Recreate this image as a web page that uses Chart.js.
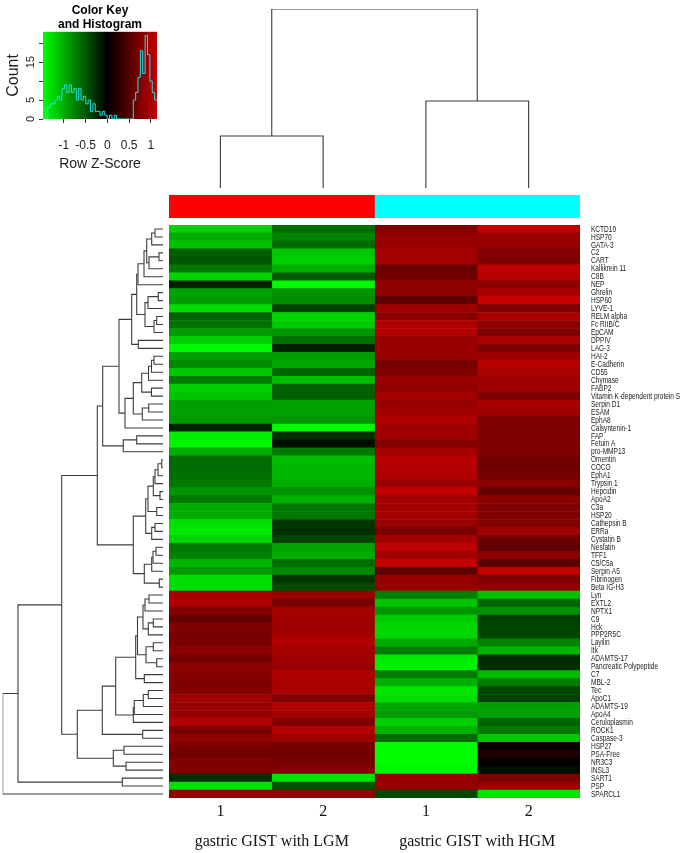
<!DOCTYPE html>
<html>
<head>
<meta charset="utf-8">
<script src="https://cdn.jsdelivr.net/npm/chart.js@4.4.1/dist/chart.umd.min.js"></script>
<style>
html,body{margin:0;padding:0;background:#fff;}
body{width:685px;height:853px;position:relative;overflow:hidden;}
canvas{position:absolute;display:block;}
</style>
</head>
<body>
<canvas id="keyChart" width="170" height="175" style="left:0;top:0;width:170px;height:175px"></canvas>
<canvas id="colDendro" width="411" height="190" style="left:169px;top:0;width:411px;height:190px"></canvas>
<canvas id="sideBar" width="411" height="23" style="left:169px;top:195px;width:411px;height:23px"></canvas>
<canvas id="rowDendro" width="169" height="573" style="left:0;top:225px;width:169px;height:573px"></canvas>
<canvas id="heatmap" width="516" height="628" style="left:169px;top:225px;width:516px;height:628px"></canvas>
<script>
// ---------------- DATA ----------------
const rowLabels = ['KCTD10','HSP70','GATA-3','C2','CART','Kallikrein 11','C8B','NEP','Ghrelin','HSP60',
 'LYVE-1','RELM alpha','Fc RIIB/C','EpCAM','DPPIV','LAG-3','HAI-2','E-Cadherin','CD55','Chymase',
 'FABP2','Vitamin K-dependent protein S','Serpin D1','ESAM','EphA8','Calsyntenin-1','FAP','Fetuin A','pro-MMP13','Omentin',
 'COCO','EphA1','Trypsin 1','Hepcidin','ApoA2','C3a','HSP20','Cathepsin B','ERRa','Cystatin B',
 'Nesfatin','TFF1','C5/C5a','Serpin A5','Fibrinogen','Beta IG-H3','Lyn','EXTL2','NPTX1','C9',
 'Hck','PPP2R5C','Layilin','Itk','ADAMTS-17','Pancreatic Polypeptide','C7','MBL-2','Tec','ApoC1',
 'ADAMTS-19','ApoA4','Ceruloplasmin','ROCK1','Caspase-3','HSP27','PSA-Free','NR3C3','INSL3','SART1',
 'PSP','SPARCL1'];

const sampleLabels = ['1','2','1','2'];
const groupLabels = ['gastric GIST with LGM','gastric GIST with HGM'];
const sampleGroup = [0,0,1,1];

// Row Z-scores, one array per sample column
const zLGM1 = [-1.2,-1.0,-1.12,-0.55,-0.5,-0.7,-1.22,-0.2,-0.95,-0.9,
 -1.28,-0.57,-0.66,-0.9,-1.2,-1.44,-0.92,-0.8,-1.15,-0.72,
 -1.2,-1.14,-0.92,-0.93,-0.88,-0.21,-1.38,-1.42,-1.0,-0.64,
 -0.62,-0.65,-0.7,-0.86,-0.7,-1.0,-1.0,-1.3,-1.36,-1.23,
 -0.7,-0.74,-1.05,-0.89,-1.3,-1.28,0.96,1.02,0.75,0.58,
 0.75,0.7,0.7,0.81,0.67,0.81,0.78,0.75,0.75,0.93,
 0.87,0.87,1.04,0.7,0.84,0.72,0.66,0.75,0.75,-0.27,
 -1.3,0.87];
const zLGM2 = [-0.63,-0.77,-0.62,-1.16,-1.21,-1.01,-0.52,-1.45,-0.85,-0.81,
 -0.38,-1.23,-1.17,-0.87,-0.66,-0.19,-0.91,-0.97,-0.59,-1.11,
 -0.57,-0.55,-0.94,-0.93,-0.87,-1.45,-0.28,-0.08,-0.71,-1.1,
 -1.06,-1.06,-1.01,-0.85,-1.04,-0.69,-0.69,-0.32,-0.27,-0.4,
 -0.95,-1.0,-0.63,-0.79,-0.3,-0.43,0.9,0.7,0.96,0.96,
 0.9,0.96,1.04,0.96,0.93,0.87,1.02,0.99,0.99,0.73,
 1.02,0.96,0.73,1.04,0.93,0.68,0.65,0.7,0.75,-1.33,
 -0.47,0.87];
const zHGM1 = [0.73,0.87,0.87,0.96,0.96,0.61,0.67,0.84,0.81,0.55,
 0.93,0.81,1.02,1.04,0.87,0.9,0.9,0.7,0.75,0.9,
 0.84,0.96,0.87,0.93,1.02,0.93,0.93,0.75,0.96,1.07,
 1.04,1.02,0.9,1.13,0.93,0.96,0.96,0.87,0.7,0.96,
 1.1,0.93,1.13,0.55,0.87,0.87,-0.74,-1.14,-0.87,-1.18,
 -1.25,-1.25,-0.98,-0.72,-1.35,-1.4,-0.72,-1.02,-1.34,-1.28,
 -0.96,-0.9,-1.2,-1.03,-0.62,-1.46,-1.47,-1.47,-1.42,0.87,
 0.87,-0.42];
const zHGM2 = [1.1,0.9,0.87,0.75,0.75,1.1,1.07,0.81,0.99,1.16,
 0.73,0.99,0.81,0.73,0.99,0.73,0.93,1.07,0.99,0.93,
 0.93,0.73,0.99,0.93,0.73,0.73,0.73,0.75,0.75,0.67,
 0.64,0.7,0.81,0.58,0.81,0.73,0.73,0.75,0.93,0.67,
 0.55,0.81,0.55,1.13,0.73,0.84,-1.12,-0.58,-0.84,-0.36,
 -0.4,-0.41,-0.76,-1.05,-0.25,-0.28,-1.08,-0.72,-0.4,-0.38,
 -0.93,-0.93,-0.57,-0.71,-1.15,0.06,0.16,0.02,-0.08,0.73,
 0.9,-1.32];

// Row dendrogram merges (hclust style: negative = leaf, positive = earlier merge), with heights
const rowMerges = [
 [-1,-2,8],[1,-3,11.3],[-4,-5,4],[3,-6,14],[2,4,16.3],[5,-7,19],[6,-8,25],[-9,-10,4.7],[8,-11,15],[-12,-13,6.3],
 [10,-14,9],[9,11,18],[7,12,26.3],[-15,-16,24.7],[13,14,31.3],[-17,-18,9],[16,-19,11.5],[17,-20,14.5],[-21,-22,11.5],[18,19,21.3],
 [-23,-24,14.3],[21,-25,20.7],[20,22,29.7],[23,-26,38],[15,24,44],[-27,-28,26.3],[26,-29,39.7],[25,27,60.3],[-30,-31,1.3],[29,-32,5],
 [30,-33,8],[-34,-35,3],[31,32,9.7],[-36,-37,6.3],[33,34,15],[-38,-39,8],[36,-40,11.3],[35,37,17.3],[-41,-42,7],[39,-43,10],
 [40,-44,11.3],[-45,-46,3.7],[41,42,18.7],[38,43,29.7],[28,44,65.7],[-47,-48,14],[46,-49,18],[-50,-51,9.7],[48,-52,14.7],[47,49,20],
 [-53,-54,9.7],[-55,-56,6.3],[51,52,17],[50,53,25.5],[-57,-58,18.7],[54,55,27.3],[-59,-60,14.7],[57,-61,19.7],[58,-62,28.7],[59,-63,29.7],
 [56,60,47.3],[-64,-65,20.3],[61,62,60.7],[-66,-67,39],[-68,-69,37],[64,65,49.7],[63,66,85.7],[45,67,101.3],[-70,-71,40.7],[68,69,145],
 [70,-72,160.3]
];
// Column dendrogram merges
const colMerges = [[-1,-2,52],[-3,-4,87],[1,2,179]];

// Colour key / histogram
const keyMin = -1.48, keyMax = 1.14;
const histCounts = [3,0,3,4,4,5,6,5,8,9,7,9,7,8,5,8,5,6,4,5,2,4,2,2,1,2,1,0,1,0,1,0,0,0,0,0,0,0,5,7,11,18,12,22,17,10,7,5];
const keyTicks = [-1,-0.5,0,0.5,1];
const keyTickLabels = ['-1','-0.5','0','0.5','1'];
const countTicks = [0,5,10,15,20];
const countTickLabels = ['0','5','','15',''];

// ---------------- STYLE ----------------
const zLim = 1.48;
const groupColors = ['#FF0000','#00FFFF'];
const lineCol = '#3c3c3c';
function zToColor(z){
  const t = Math.min(1, Math.abs(z)/zLim);
  const v = Math.round(255*t);
  return z < 0 ? `rgb(0,${v},0)` : `rgb(${v},0,0)`;
}
const serif = "'Liberation Serif','Times New Roman',serif";
const sans = "'Liberation Sans',Arial,sans-serif";
const rowLabelSquash = 0.69;

Chart.defaults.animation = false;
Chart.defaults.responsive = false;
Chart.defaults.plugins.legend.display = false;
Chart.defaults.plugins.tooltip.enabled = false;

function dendroSegments(merges){
  const pos = [], hgt = [], segs = [];
  const get = id => id < 0 ? {p: -id-1, h: 0} : {p: pos[id-1], h: hgt[id-1]};
  merges.forEach(([a,b,h],k) => {
    const A = get(a), B = get(b);
    pos[k] = (A.p + B.p)/2; hgt[k] = h;
    segs.push([{h:A.h,p:A.p},{h:h,p:A.p},{h:h,p:B.p},{h:B.h,p:B.p}]);
  });
  return segs;
}
const segStyle = {showLine:true, pointRadius:0, borderColor:lineCol, borderWidth:1.1, tension:0, fill:false};

// ---------------- ROW DENDROGRAM ----------------
new Chart(document.getElementById('rowDendro'), {
  type:'scatter',
  data:{datasets: dendroSegments(rowMerges).map(s => Object.assign({data: s.map(q => ({x:q.h, y:q.p}))}, segStyle))},
  options:{
    layout:{padding:{left:2.7,right:6,top:0,bottom:0}},
    scales:{
      x:{type:'linear', reverse:true, min:0, max:160.3, display:false},
      y:{type:'linear', reverse:true, min:-0.5, max:rowLabels.length-0.5, display:false}
    }
  }
});

// ---------------- COLUMN DENDROGRAM ----------------
new Chart(document.getElementById('colDendro'), {
  type:'scatter',
  data:{datasets: dendroSegments(colMerges).map(s => Object.assign({data: s.map(q => ({x:q.p, y:q.h}))}, segStyle))},
  options:{
    layout:{padding:{left:0,right:0,top:9,bottom:2}},
    scales:{
      x:{type:'linear', min:-0.5, max:sampleLabels.length-0.5, display:false},
      y:{type:'linear', min:0, max:179, display:false}
    }
  }
});

// ---------------- SIDE COLOUR BAR ----------------
new Chart(document.getElementById('sideBar'), {
  type:'bar',
  data:{labels:['group'], datasets: sampleGroup.map(g => ({data:[1], backgroundColor:groupColors[g], borderWidth:0, barPercentage:1, categoryPercentage:1}))},
  options:{
    indexAxis:'y',
    layout:{padding:0},
    scales:{
      x:{stacked:true, min:0, max:sampleLabels.length, display:false},
      y:{stacked:true, display:false}
    }
  }
});

// ---------------- HEATMAP ----------------
const rowLabelPlugin = {
  id:'rowLabelPlugin',
  afterDraw(chart){
    const {ctx} = chart; const s = chart.scales.y;
    ctx.save();
    ctx.font = `9.5px ${sans}`; ctx.fillStyle = '#1a1a1a';
    ctx.textBaseline = 'middle'; ctx.textAlign = 'left';
    ctx.translate(s.left + 11, 0); ctx.scale(rowLabelSquash, 1);
    s.ticks.forEach((t,i) => ctx.fillText(s.getLabelForValue(t.value), 0, s.getPixelForTick(i)));
    ctx.restore();
  }
};
const zCols = [zLGM1, zLGM2, zHGM1, zHGM2];
new Chart(document.getElementById('heatmap'), {
  type:'bar',
  data:{
    labels: rowLabels,
    datasets: zCols.map((col,i) => ({
      label: 'sample '+(i+1),
      data: col.map(() => 1),
      backgroundColor: col.map(zToColor),
      borderWidth:0, barPercentage:1, categoryPercentage:1
    }))
  },
  options:{
    indexAxis:'y',
    layout:{padding:0},
    scales:{
      y:{
        type:'category', position:'right', stacked:true,
        grid:{display:false, drawTicks:false}, border:{display:false},
        ticks:{display:false, autoSkip:false},
        afterFit: s => { s.width = 105; s.paddingTop = 0; s.paddingBottom = 0; }
      },
      x:{
        type:'linear', position:'bottom', stacked:true, min:0, max:sampleLabels.length,
        grid:{display:false, drawTicks:false}, border:{display:false},
        afterBuildTicks: s => { s.ticks = sampleLabels.map((_,i) => ({value:i+0.5})); },
        ticks:{maxRotation:0, autoSkip:false, padding:4, color:'#111', font:{family:serif, size:16},
          callback:(v,i) => sampleLabels[i]},
        afterFit: s => { s.height = 28; s.paddingLeft = 0; s.paddingRight = 0; }
      },
      x2:{
        type:'linear', axis:'x', position:'bottom', min:0, max:sampleLabels.length,
        grid:{display:false, drawTicks:false}, border:{display:false},
        afterBuildTicks: s => { s.ticks = groupLabels.map((_,g) => ({value: sampleGroup.indexOf(g) + sampleGroup.filter(x=>x===g).length/2})); },
        ticks:{maxRotation:0, autoSkip:false, padding:6, color:'#111', font:{family:serif, size:16},
          callback:(v,i) => groupLabels[i]},
        afterFit: s => { s.height = 27; s.paddingLeft = 0; s.paddingRight = 0; }
      }
    }
  },
  plugins:[rowLabelPlugin]
});

// ---------------- COLOUR KEY ----------------
const histEdges = histCounts.map((_,i) => keyMin + i*(keyMax-keyMin)/histCounts.length).concat([keyMax]);
const keyGradient = {
  id:'keyGradient',
  beforeDatasetsDraw(chart){
    const {ctx, chartArea:a, scales:{x}} = chart;
    const g = ctx.createLinearGradient(x.getPixelForValue(-zLim),0,x.getPixelForValue(zLim),0);
    g.addColorStop(0,'rgb(0,255,0)'); g.addColorStop(0.5,'rgb(0,0,0)'); g.addColorStop(1,'rgb(255,0,0)');
    ctx.save(); ctx.fillStyle = g; ctx.fillRect(a.left, a.top, a.width, a.height); ctx.restore();
  }
};
new Chart(document.getElementById('keyChart'), {
  type:'line',
  data:{datasets:[{
    data: histEdges.map((x,i) => ({x, y: histCounts[Math.min(i, histCounts.length-1)]})),
    stepped:true, borderColor:'#22e0e0', borderWidth:1, pointRadius:0, fill:false
  }]},
  options:{
    layout:{padding:{left:0,right:13,top:0,bottom:0}},
    plugins:{
      title:{display:true, text:['Color Key','and Histogram'], fullSize:false, color:'#000',
        font:{family:sans, size:12, weight:'bold', lineHeight:1.2}, padding:{top:3,bottom:0}}
    },
    scales:{
      x:{type:'linear', min:keyMin, max:keyMax,
        afterBuildTicks: s => { s.ticks = keyTicks.map(v => ({value:v})); },
        ticks:{maxRotation:0, autoSkip:false, padding:15, color:'#222', font:{family:sans, size:12},
          callback:(v,i) => keyTickLabels[i]},
        grid:{drawOnChartArea:false, drawTicks:true, tickLength:4, color:'#333'}, border:{display:false},
        title:{display:true, text:'Row Z-Score', color:'#222', font:{family:sans, size:14}, padding:{top:0,bottom:2}},
        afterFit: s => { s.height = 56; }
      },
      y:{type:'linear', min:0, max:23,
        afterBuildTicks: s => { s.ticks = countTicks.map(v => ({value:v})); },
        ticks:{minRotation:90, maxRotation:90, crossAlign:'center', autoSkip:false, padding:2, color:'#222',
          font:{family:sans, size:11}, callback:(v,i) => countTickLabels[i]},
        grid:{drawOnChartArea:false, drawTicks:true, tickLength:4, color:'#333'}, border:{display:false},
        title:{display:true, text:'Count', color:'#222', font:{family:sans, size:16}, padding:{top:4,bottom:0}},
        afterFit: s => { s.width = 43; }
      }
    }
  },
  plugins:[keyGradient]
});
</script>
</body>
</html>
